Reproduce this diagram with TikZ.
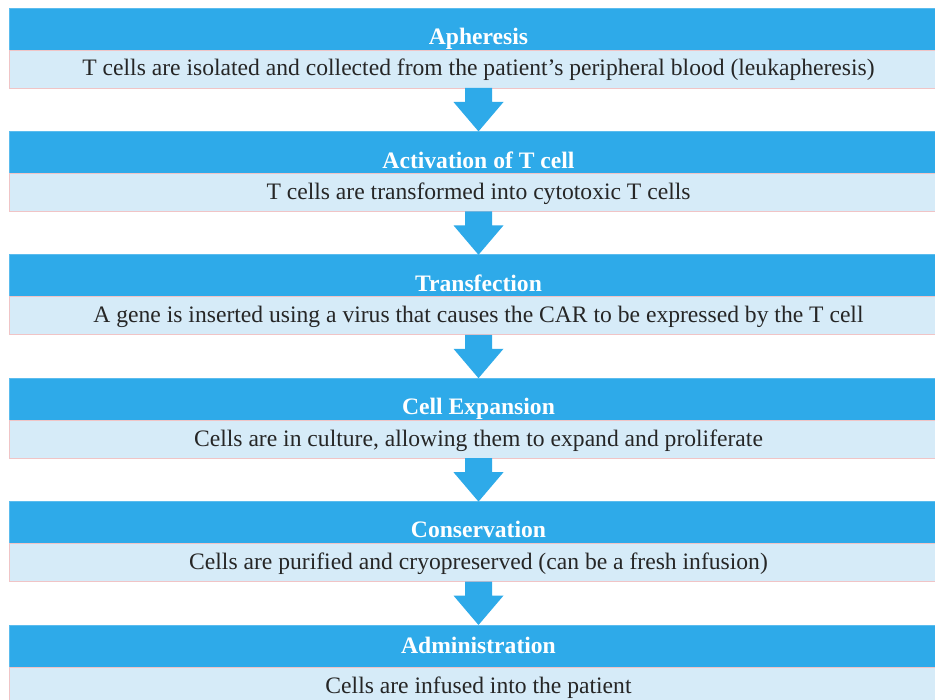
\documentclass[tikz,border=0pt]{standalone}
\usepackage{fontspec}
\setmainfont{Liberation Serif}
\usetikzlibrary{calc}
\definecolor{barblue}{HTML}{2EAAE9}
\definecolor{baredge}{HTML}{5BBCEE}
\definecolor{lightbox}{HTML}{D6EBF8}
\definecolor{pinkedge}{HTML}{F0C4C6}
\tikzset{
  bar/.style={rectangle, fill=barblue, draw=baredge, line width=0.8pt, minimum width=939pt, minimum height=42pt, inner sep=0pt, outer sep=0pt},
  body/.style={rectangle, fill=lightbox, draw=pinkedge, line width=0.8pt, minimum width=939pt, minimum height=38pt, inner sep=0pt, outer sep=0pt},
  bodytxt/.style={inner sep=0pt, anchor=base, font=\fontsize{23.6}{26}\selectfont, text=black!85},
  ttl/.style={inner sep=0pt, anchor=base, font=\bfseries\fontsize{23.6}{26}\selectfont, text=white},
  arr/.style={fill=barblue}
}
\begin{document}
\begin{tikzpicture}[x=1pt,y=-1pt]
\clip (0,0) rectangle (935,700);
\fill[white] (0,0) rectangle (935,700);
\foreach \i/\o/\t/\b in {1/37/Apheresis/{T cells are isolated and collected from the patient's peripheral blood (leukapheresis)},
  2/37/Activation of T cell/{T cells are transformed into cytotoxic T cells},
  3/37/Transfection/{A gene is inserted using a virus that causes the CAR to be expressed by the T cell},
  4/36/Cell Expansion/{Cells are in culture, allowing them to expand and proliferate},
  5/36/Conservation/{Cells are purified and cryopreserved (can be a fresh infusion)},
  6/28/Administration/{Cells are infused into the patient}}{
  \pgfmathsetmacro{\blocktop}{8+123.4*(\i-1)}
  \node[bar] (t\i) at (478.5,\blocktop+21) {};
  \node[ttl] (tt\i) at (478.5,\blocktop+\o) {\t};
  \node[body] (b\i) at (478.5,\blocktop+61) {};
  \node[bodytxt] (bt\i) at (478.5,\blocktop+68) {\b};
}
\foreach \i [evaluate=\i as \n using int(\i+1)] in {1,...,5}{
  \fill[arr] ([xshift=-13.5pt]b\i.south) -- ([xshift=-13.5pt,yshift=-14pt]b\i.south)
    -- ([xshift=-25pt,yshift=-14pt]b\i.south) -- (t\n.north)
    -- ([xshift=25pt,yshift=-14pt]b\i.south) -- ([xshift=13.5pt,yshift=-14pt]b\i.south)
    -- ([xshift=13.5pt]b\i.south) -- cycle;
}
\end{tikzpicture}
\end{document}
